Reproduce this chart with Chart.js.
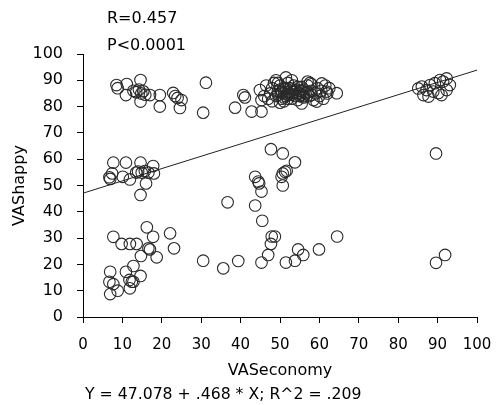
<!DOCTYPE html>
<html>
<head>
<meta charset="utf-8">
<script src="https://cdn.jsdelivr.net/npm/chart.js@4/dist/chart.umd.min.js"></script>
<style>
  html, body { margin: 0; padding: 0; background: #fff; }
</style>
</head>
<body>
<canvas id="scatter" width="500" height="405"></canvas>
<script>
// VASeconomy (x) and VAShappy (y)
var vasEconomy = [
  8.5, 8.8, 11.1, 10.9, 14.6, 12.8, 13.5, 14.2, 14.8, 15.3, 15.8, 14.6, 17, 19.5, 19.5, 22.9, 23.4, 24, 25, 24.6, 31.2, 30.5,
  38.6, 40.7, 41.1, 42.8, 45.3, 44.9, 45.3, 51.5, 55.5, 59.3, 60.6, 64.4, 61.8,
  47, 47.5, 48, 48.5, 48, 49, 49.5, 50, 50.5, 50, 51, 51.5, 52, 52, 52.5, 53, 53.5, 54, 54.5, 55, 55.5, 56, 56.5, 57, 57.5, 58, 58.5, 59, 59.5, 60, 60.5, 61, 62, 62.5, 49, 53, 57, 46.5, 46, 51, 55, 58, 61.5, 49.5, 57.6,
  49.5, 50.5, 51, 51.5, 52, 52.5, 53, 53.5, 54, 54.5, 55, 55.5, 56, 56, 51, 52, 53, 54.5, 50, 55.5, 57, 58,
  86, 86.4, 87.7, 88.9, 90.2, 91.4, 92.3, 93.1, 90.6, 89.3, 88.1, 87.2, 85.1, 92.3, 91, 89.6, 91.9, 89.6,
  7.7, 10.9, 14.6, 17.8, 7.4, 6.7, 6.9, 10.1, 11.9, 13.5, 14, 14.9, 15.7, 16.6, 18, 16, 14.6,
  16.2, 7.7, 9.8, 11.9, 13.6, 17.8, 16.6, 17, 14.7, 18.7, 22.1, 23.1, 30.5, 6.9, 6.7, 7.7, 6.9, 8.8, 10.9, 12.8, 11.8, 12.4, 12.8, 11.9, 14.6,
  47.7, 50.7, 53.8, 43.7, 44.5, 44.7, 45.3, 50.7, 51.3, 51.7, 50.4, 50.7, 36.7, 43.7, 45.5, 47.9, 48.7, 64.5, 47.7, 47, 45.3, 35.6, 39.4, 51.5, 53.8, 54.6, 55.9, 59.9
];
var vasHappy = [
  88.2, 87, 88.6, 84.4, 90.1, 86, 85.5, 86.5, 85, 85.8, 84.5, 81.9, 84.4, 84.4, 80, 85.2, 84, 83.3, 82.5, 79.5, 89.1, 77.7,
  79.6, 84.4, 83.5, 78.1, 78.1, 86.3, 82.5, 91.1, 81.2, 81.9, 88.8, 85.1, 85.7,
  83, 85, 87, 89, 82, 84, 86, 88, 83, 81.5, 85, 87, 89, 83, 85, 86.5, 88, 84, 82.5, 86, 87.5, 83.5, 85, 88, 84, 86, 82.5, 85, 87, 84, 86, 83, 85, 87, 90, 90, 89.5, 88, 84, 82, 84, 88.5, 88, 89, 89,
  84.5, 85.5, 86.5, 84, 85.5, 87, 84.5, 85.5, 86.5, 85, 85, 84.5, 86.5, 84, 83.5, 84.5, 83, 87.5, 86.5, 86, 85.5, 84.5,
  87.6, 84.4, 83.8, 85.7, 85.2, 89.5, 90.7, 88.2, 90.1, 88.9, 88.2, 86.3, 86.9, 86.3, 84.4, 62.2, 23.6, 20.6,
  58.7, 58.7, 58.7, 57.4, 54.6, 53.1, 52.5, 53.3, 52.3, 54.9, 55.3, 54.9, 55.5, 54.9, 54.6, 50.8, 46.4,
  34.1, 30.5, 27.8, 27.8, 27.8, 30.5, 26.1, 25.7, 23.2, 22.7, 31.8, 26.1, 21.4, 17.2, 13.4, 12.5, 8.7, 10, 17.2, 19.4, 14.1, 13.4, 13.4, 10.9, 15.6,
  63.8, 62.2, 58.8, 53.3, 51.5, 50.8, 47.7, 54.6, 55.2, 55.6, 53.3, 50, 43.6, 42.4, 36.6, 30.6, 30.6, 30.6, 27.8, 23.6, 20.7, 18.5, 21.3, 20.7, 21.4, 25.7, 23.6, 25.7
];

// fit line as printed under the chart
var intercept = 47.078;
var slope = 0.468;
var fitRange = [0, 100];

var statLines = ["R=0.457", "P<0.0001"];
var equationText = "Y = 47.078 + .468 * X; R^2 = .209";

var points = [];
for (var i = 0; i < vasEconomy.length; i++) {
  points.push({ x: vasEconomy[i], y: vasHappy[i] });
}
var fitPoints = fitRange.map(function (x) { return { x: x, y: intercept + slope * x }; });

var fontFamily = "'DejaVu Sans', sans-serif";

var textPlugin = {
  id: 'extraText',
  afterDraw: function (chart) {
    var ctx = chart.ctx;
    ctx.save();
    ctx.fillStyle = '#000';
    ctx.font = "16px " + fontFamily;
    ctx.textAlign = 'left';
    ctx.textBaseline = 'middle';
    ctx.fillText(statLines[0], 107, 19);
    ctx.fillText(statLines[1], 107, 46);
    ctx.font = "15.7px " + fontFamily;
    ctx.fillText(equationText, 85, 395);
    ctx.restore();
  }
};

new Chart(document.getElementById("scatter"), {
  type: 'scatter',
  data: {
    datasets: [
      {
        label: 'VAShappy',
        data: points,
        pointRadius: 5.8,
        pointBorderWidth: 1.1,
        borderColor: '#2a2a2a',
        backgroundColor: 'rgba(0,0,0,0)',
        order: 2
      },
      {
        type: 'line',
        label: 'fit',
        data: fitPoints,
        borderColor: '#222',
        borderWidth: 1,
        pointRadius: 0,
        fill: false,
        order: 1
      }
    ]
  },
  options: {
    responsive: false,
    animation: false,
    devicePixelRatio: 1,
    layout: { autoPadding: false, padding: { top: 54, right: 23, bottom: 25, left: 0 } },
    plugins: {
      legend: { display: false },
      tooltip: { enabled: false }
    },
    scales: {
      x: {
        type: 'linear',
        min: 0,
        max: 100,
        afterFit: function (scale) {
          scale.height = 63;
          scale.paddingRight = 15;
        },
        border: { color: '#000', width: 1 },
        grid: { drawOnChartArea: false, drawTicks: true, tickLength: 6, color: '#000' },
        ticks: { stepSize: 10, color: '#000', padding: 13, maxRotation: 0, font: { family: fontFamily, size: 15 } },
        title: { display: true, text: 'VASeconomy', color: '#000', padding: { top: 4, bottom: 0 }, font: { family: fontFamily, size: 16 } }
      },
      y: {
        type: 'linear',
        min: 0,
        max: 100,
        afterFit: function (scale) { scale.width = 83; },
        border: { color: '#000', width: 1 },
        grid: { drawOnChartArea: false, drawTicks: true, tickLength: 6, color: '#000' },
        ticks: { stepSize: 10, color: '#000', padding: 14, font: { family: fontFamily, size: 16 } },
        title: { display: true, text: 'VAShappy', color: '#000', padding: { top: 10, bottom: 0 }, font: { family: fontFamily, size: 16 } }
      }
    }
  },
  plugins: [textPlugin]
});
</script>
</body>
</html>
